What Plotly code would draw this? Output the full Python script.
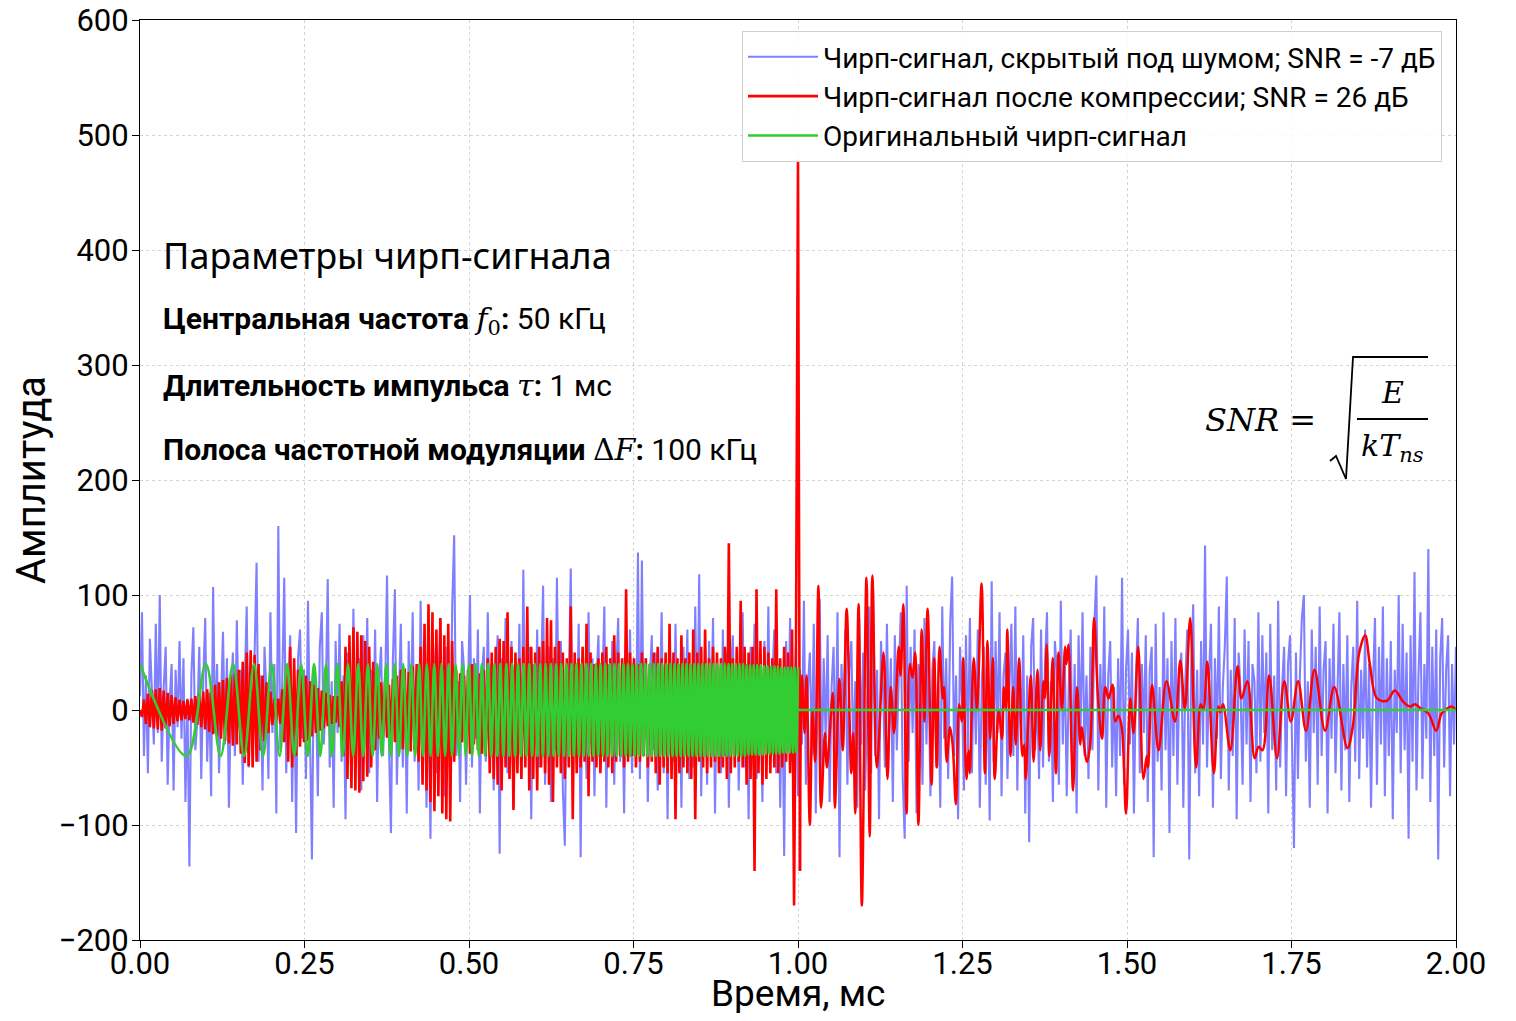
import numpy as np
import plotly.graph_objects as go

# ---------------- data ----------------
# noisy chirp, uniform time grid 0..2 ms
blue_y = [
    12, 85, -40, 30, -55, 62, 18, -30, 75, -20, 100, -45, 20, 55, -65, 8, 40, -70, 35, -15,
    60, -25, 45, -80, 10, -136, 30, 72, -35, -10, 55, -60, 25, 80, -45, 15, -75, 107, -20, 40,
    -55, 20, 68, -30, 45, -85, 5, 50, -40, 78, -15, 35, -65, 22, 90, -50, 10, -30, 60, 128,
    -45, 30, -70, 55, 15, -60, 85, -20, 40, -90, 160, -35, 25, 115, -55, 10, 65, -80, 30, -107,
    45, 70, -25, 35, -60, 95, -15, -130, 40, 20, -75, 55, 85, -30, 10, 114, -50, 25, -85, 60,
    -20, 75, -45, 30, -95, 50, 15, -60, 88, -35, 20, 45, -70, 65, -10, 80, -55, 35, -25, 70,
    -80, 25, 55, -40, 10, 117, -30, -107, 45, 105, -65, 20, 75, -50, 35, -90, 60, -15, 85, -45,
    30, -70, 95, -20, 50, -85, 15, -112, 65, 40, -55, 20, 80, -35, -75, 55, 10, -60, 90, 152,
    -40, 25, -80, 60, 35, -65, 15, 100, -50, 45, -25, 70, -90, 30, 55, -45, 85, -20, 40, -70,
    20, 65, -125, 45, -30, 80, -55, 10, 60, -85, 35, -15, 75, -60, 122, -40, 25, 55, -95, 40,
    -25, 70, -50, 30, 108, -65, 15, 55, -80, 45, -35, 115, -20, 60, -70, -118, 40, 20, 123, -55,
    35, -40, 75, -128, 50, 10, -60, 85, -30, 45, -75, 25, 65, -50, 15, 90, -85, 40, -20, 60,
    -65, 30, 80, -45, 20, -90, 55, -15, 70, -55, 35, -30, 137, -60, 130, -40, 45, -80, 25, 65,
    -35, 50, -70, 15, 85, -55, 30, -95, 60, 20, -45, 75, -25, 40, -85, 55, -10, 70, -60, 35,
    -50, 90, -30, 118, -75, 25, 45, -65, 60, -20, 80, -90, 35, 15, -55, 70, -40, 50, -85, 30,
    65, -25, 45, -70, 20, 85, -50, 35, -95, 55, -15, 75, -60, 40, 10, -80, 60, -35, 90, -45,
    25, 70, -55, 40, -85, 30, -127, 60, -20, 80, -45, 15, 55, -75, 35, -30, 95, -65, 20, 50,
    -40, 75, -90, 30, 97, -60, 45, -25, 65, -80, 20, 55, -50, 85, -128, 40, -15, 70, -65, 35,
    60, -45, 25, -85, 80, -30, 50, -70, 15, 90, -55, 107, -40, 35, -95, 60, 20, -50, 75, -25,
    45, -80, 65, -35, 30, 85, -60, -112, 108, -45, 55, -20, 70, -90, 40, 25, -65, 80, -30, 50,
    -75, 35, 60, -50, 20, -85, 90, -25, 45, -60, 75, 116, -40, 30, -95, 55, 10, -70, 65, -35,
    80, -55, 40, -30, 70, -85, 25, 55, -65, 35, -96, 112, -45, 60, -20, 85, -75, 30, 50, -60,
    20, 75, -40, 90, -70, 45, -25, 65, -90, 30, -115, 55, 80, -35, 15, -60, 70, -50, 40, 85,
    -45, 25, -80, 60, 35, -65, 95, -30, 50, -75, 20, 70, -55, 40, -90, 65, -20, 85, -40, 30,
    -60, 55, -35, 75, 117, -70, 40, -25, 90, -85, 30, 60, -50, 20, -75, 45, -40, 115, -65, 35,
    70, -30, 50, -90, 25, 80, -55, 40, -20, 65, -80, 35, 55, -128, 75, -45, 20, -70, 85, -35,
    45, -107, 60, -40, 80, -65, 30, 50, -85, 25, 70, -130, 40, 92, -55, 35, -75, 60, -30, 143,
    -50, 30, 75, -85, 45, -25, 90, -60, 20, 55, 116, -70, 35, -40, 80, -95, 50, 15, -65, 70,
    -30, 60, -80, 40, 25, -55, 85, -45, 65, -20, 50, -90, 75, -35, 30, -70, 95, -50, 20, 55,
    -75, 40, 65, -35, -120, 50, -60, 30, 80, 100, -45, 25, -85, 70, -20, 55, -65, 90, -40, 35,
    60, -90, 45, -25, 75, -55, 30, 85, -70, 40, -35, 65, -80, 20, 55, -45, 95, -60, 35, -25,
    70, -50, 40, -85, 25, 80, -65, 55, -30, 90, -75, 45, -40, 60, -95, 35, -20, 100, -55, 75,
    -35, 50, -112, 65, -45, 120, -70, 30, 85, -60, 40, -25, 140, -80, 55, -40, 70, -130, 45, 80,
    -50, 35, 65, -75, 40, -30, 55,
]

# compressed signal, first part on the same time grid (0 .. 1.003 ms)
red_head_y = [
    0, -6, 9, -12, 14, -15, 17, -16, 18, -17,
    19, -18, 17, -16, 15, -14, 13, -12, 11, -10,
    9, -9, 8, -8, 9, -9, 10, -11, 12, -13,
    14, -15, 16, -17, 18, -19, 20, -21, 22, -23,
    24, -25, 26, -27, 28, -29, 30, -31, 32, -30,
    35, -38, 42, -46, 50, -49, 52, -50, 48, -45,
    40, -35, 30, -27, 24, -20, 16, -13, 10, -9,
    10, -12, 18, -28, 38, -45, 55, -50, 45, -40,
    35, -32, 30, -28, 30, -27, 25, -23, 22, -20,
    19, -18, 17, -16, 15, -14, 13, -12, 12, -11,
    12, -15, 25, -40, 55, -60, 65, -68, 72, -70,
    68, -72, 65, -62, 60, -58, 55, -50, 42, -35,
    28, -25, 24, -22, 25, -24, 22, -25, 27, -28,
    30, -32, 35, -34, 36, -35, 33, -36, 38, -35,
    40, -45, 55, -65, 75, -70, 92, -80, 85, -88,
    70, -75, 80, -90, 65, -95, 75, -97, 60, -45,
    35, -30, 32, -28, 30, -32, 35, -38, 40, -30,
    28, -35, 32, -38, 35, -40, 45, -55, 50, -60,
    55, -65, 62, -70, 60, -50, 85, -60, 55, -87,
    50, -55, 45, -60, 55, -50, 90, -70, 55, -60,
    50, -70, 55, -50, 60, -55, 80, -65, 78, -80,
    55, -50, 60, -55, 50, -60, 45, -50, 90, -95,
    50, -55, 45, -50, 55, -45, 75, -75, 50, -45,
    40, -50, 45, -55, 50, -45, 55, -50, 45, -55,
    65, -45, 50, -40, 45, -50, 105, -45, 50, -40,
    45, -50, 40, -45, 50, -40, 45, -50, 40, -45,
    50, -55, 55, -65, 45, -50, 50, -55, 75, -60,
    50, -95, 45, -55, 65, -50, 45, -55, 50, -60,
    70, -95, 50, -45, 55, -50, 70, -55, 45, -50,
    55, -45, 50, -55, 45, -50, 55, -60, 145, -55,
    45, -50, 55, -45, 95, -50, 55, -65, 50, -60,
    55, -140, 105, -55, 60, -65, 55, -60, 50, -55,
    45, -50, 105, -55, 45, -50, 55, -45, 50, -55,
    70, -170, 60, 478, -140,
]

# compressed signal, second part: turning points (ms, amplitude)
red_tail_t = [
    1.003, 1.006, 1.010, 1.013, 1.018, 1.022, 1.026, 1.031, 1.035, 1.041,
    1.044, 1.053, 1.056, 1.063, 1.068, 1.074, 1.081, 1.084, 1.087, 1.092,
    1.097, 1.104, 1.109, 1.113, 1.120, 1.130, 1.136, 1.141, 1.146, 1.153,
    1.156, 1.160, 1.165, 1.170, 1.174, 1.178, 1.183, 1.188, 1.192, 1.197,
    1.203, 1.207, 1.211, 1.215, 1.220, 1.222, 1.226, 1.231, 1.235, 1.240,
    1.245, 1.249, 1.251, 1.256, 1.259, 1.261, 1.267, 1.272, 1.279, 1.284,
    1.288, 1.292, 1.296, 1.299, 1.305, 1.310, 1.313, 1.316, 1.318, 1.323,
    1.327, 1.331, 1.336, 1.341, 1.344, 1.346, 1.350, 1.354, 1.358, 1.364,
    1.368, 1.373, 1.375, 1.378, 1.382, 1.387, 1.392, 1.396, 1.401, 1.406,
    1.408, 1.411, 1.416, 1.418, 1.424, 1.429, 1.431, 1.439, 1.444, 1.450,
    1.456, 1.462, 1.467, 1.472, 1.478, 1.482, 1.487, 1.492, 1.4985, 1.505,
    1.510, 1.517, 1.525, 1.530, 1.532, 1.538, 1.548, 1.560, 1.573, 1.581,
    1.588, 1.596, 1.605, 1.612, 1.616, 1.622, 1.632, 1.639, 1.642, 1.646,
    1.657, 1.668, 1.674, 1.683, 1.694, 1.700, 1.706, 1.716, 1.728, 1.739,
    1.749, 1.760, 1.772, 1.785, 1.801, 1.815, 1.835, 1.843, 1.853, 1.862,
    1.869, 1.880, 1.895, 1.907, 1.920, 1.930, 1.938, 1.945, 1.958, 1.970,
    1.978, 1.986, 1.993, 2.000,
]
red_tail_y = [
    -140, 30, -20, 30, -100, 0, -45, 108, -85, -20,
    -50, 15, -85, 27, -35, 88, -55, -20, -90, 92,
    -170, 115, -110, 117, -50, 50, -60, 20, -20, 55,
    30, 92, -90, 40, 28, 50, -100, 70, -10, 88,
    -65, 45, -50, 55, 10, 20, -45, -15, -30, -82,
    5, -10, 45, -60, -35, -55, 45, 0, 110, -55,
    60, -25, 45, -60, 0, -25, 20, 0, 70, -40,
    20, -30, 45, -40, -30, -60, -10, 30, -45, 35,
    -35, 25, 10, 57, -40, 45, -55, 50, 0, 55,
    40, 57, -40, -70, 20, -30, -15, -45, -30, 80,
    10, -25, 20, 10, 22, -10, -5, -15, -90, 10,
    -20, 55, -60, -40, -50, 22, -35, 25, -10, 43,
    0, 80, -50, 5, 0, 42, -55, 3, -2, 5,
    -35, 38, 10, 25, -42, -32, -35, 30, -42, 25,
    -10, 25, -18, 35, -18, 20, -33, -15, 50, 65,
    40, 10, 8, 17, 7, 3, 5, 2, -3, -18,
    -3, 1, 3, 0,
]

# original chirp: turning points (ms, amplitude)
green_t = [
    0.0000, 0.0707, 0.1000, 0.1225, 0.1414, 0.1581, 0.1732, 0.1871, 0.2000, 0.2121,
    0.2236, 0.2345, 0.2449, 0.2550, 0.2646, 0.2739, 0.2828, 0.2915, 0.3000, 0.3082,
    0.3162, 0.3240, 0.3317, 0.3391, 0.3464, 0.3536, 0.3606, 0.3674, 0.3742, 0.3808,
    0.3873, 0.3937, 0.4000, 0.4062, 0.4123, 0.4183, 0.4243, 0.4301, 0.4359, 0.4416,
    0.4472, 0.4528, 0.4583, 0.4637, 0.4690, 0.4743, 0.4796, 0.4848, 0.4899, 0.4950,
    0.5000, 0.5050, 0.5099, 0.5148, 0.5196, 0.5244, 0.5292, 0.5339, 0.5385, 0.5431,
    0.5477, 0.5523, 0.5568, 0.5612, 0.5657, 0.5701, 0.5745, 0.5788, 0.5831, 0.5874,
    0.5916, 0.5958, 0.6000, 0.6042, 0.6083, 0.6124, 0.6164, 0.6205, 0.6245, 0.6285,
    0.6325, 0.6364, 0.6403, 0.6442, 0.6481, 0.6519, 0.6557, 0.6595, 0.6633, 0.6671,
    0.6708, 0.6745, 0.6782, 0.6819, 0.6856, 0.6892, 0.6928, 0.6964, 0.7000, 0.7036,
    0.7071, 0.7106, 0.7141, 0.7176, 0.7211, 0.7246, 0.7280, 0.7314, 0.7348, 0.7382,
    0.7416, 0.7450, 0.7483, 0.7517, 0.7550, 0.7583, 0.7616, 0.7649, 0.7681, 0.7714,
    0.7746, 0.7778, 0.7810, 0.7842, 0.7874, 0.7906, 0.7937, 0.7969, 0.8000, 0.8031,
    0.8062, 0.8093, 0.8124, 0.8155, 0.8185, 0.8216, 0.8246, 0.8276, 0.8307, 0.8337,
    0.8367, 0.8396, 0.8426, 0.8456, 0.8485, 0.8515, 0.8544, 0.8573, 0.8602, 0.8631,
    0.8660, 0.8689, 0.8718, 0.8746, 0.8775, 0.8803, 0.8832, 0.8860, 0.8888, 0.8916,
    0.8944, 0.8972, 0.9000, 0.9028, 0.9055, 0.9083, 0.9110, 0.9138, 0.9165, 0.9192,
    0.9220, 0.9247, 0.9274, 0.9301, 0.9327, 0.9354, 0.9381, 0.9407, 0.9434, 0.9460,
    0.9487, 0.9513, 0.9539, 0.9566, 0.9592, 0.9618, 0.9644, 0.9670, 0.9695, 0.9721,
    0.9747, 0.9772, 0.9798, 0.9823, 0.9849, 0.9874, 0.9899, 0.9925, 0.9950, 0.9975,
    1.0000,
]
green_y = [
    40, -40, 40, -40, 40, -40, 40, -40, 40, -40,
    40, -40, 40, -40, 40, -40, 40, -40, 40, -40,
    40, -40, 40, -40, 40, -40, 40, -40, 40, -40,
    40, -40, 40, -40, 40, -40, 40, -40, 40, -40,
    40, -40, 40, -40, 40, -40, 40, -40, 40, -40,
    40, -40, 40, -40, 40, -40, 40, -40, 40, -40,
    40, -40, 40, -40, 40, -40, 40, -40, 40, -40,
    40, -40, 40, -40, 40, -40, 40, -40, 40, -40,
    40, -40, 40, -40, 40, -40, 40, -40, 40, -40,
    40, -40, 40, -40, 40, -40, 40, -40, 40, -40,
    40, -40, 40, -40, 40, -40, 40, -40, 40, -40,
    40, -40, 40, -40, 40, -40, 40, -40, 40, -40,
    40, -40, 40, -40, 40, -40, 40, -40, 40, -40,
    40, -40, 40, -40, 40, -40, 40, -40, 40, -40,
    40, -40, 40, -40, 40, -40, 40, -40, 40, -40,
    40, -40, 40, -40, 40, -40, 40, -40, 40, -40,
    40, -40, 40, -40, 40, -40, 40, -40, 40, -40,
    39, -39, 39, -39, 39, -39, 39, -39, 39, -39,
    38, -38, 38, -38, 38, -38, 38, -38, 38, -38,
    37, -37, 37, -37, 37, -37, 37, -37, 37, -37,
    37,
]
green_tail_t = [1.0, 2.0]
green_tail_y = [0, 0]

x_ticks = [0.0, 0.25, 0.5, 0.75, 1.0, 1.25, 1.5, 1.75, 2.0]
y_ticks = [-200, -100, 0, 100, 200, 300, 400, 500, 600]

names = [
    "Чирп-сигнал, скрытый под шумом; SNR = -7 дБ",
    "Чирп-сигнал после компрессии; SNR = 26 дБ",
    "Оригинальный чирп-сигнал",
]

# ---------------- layout helpers ----------------
# page has an 8px body margin; figure sized so it fits in the window
W, H = 1500, 1005
PL, PT, PR, PB = 140, 20, 1456, 940          # plot area in window pixels
OFF = 8
ML, MT = PL - OFF, PT - OFF
PW, PH = PR - PL, PB - PT
MR, MB = W - ML - PW, H - MT - PH


def px(x):
    return (x - PL) / PW


def py(y):
    return (PB - y) / PH


t_grid = np.linspace(0.0, 2.0, len(blue_y))

BLUE, RED, GREEN = "#8080ff", "#ff0000", "#32cd32"
FONT = "Roboto"
SERIF = "DejaVu Serif"

fig = go.Figure()
fig.add_trace(go.Scatter(x=t_grid, y=blue_y, mode="lines", name=names[0],
                         legendgroup="b", line=dict(color=BLUE, width=2.1)))
fig.add_trace(go.Scatter(x=t_grid[:len(red_head_y)], y=red_head_y, mode="lines",
                         name=names[1], legendgroup="r",
                         line=dict(color=RED, width=2.6)))
fig.add_trace(go.Scatter(x=red_tail_t, y=red_tail_y, mode="lines", name=names[1],
                         legendgroup="r", showlegend=False,
                         line=dict(color=RED, width=2.5, shape="spline")))
fig.add_trace(go.Scatter(x=green_t, y=green_y, mode="lines", name=names[2],
                         legendgroup="g",
                         line=dict(color=GREEN, width=2.6, shape="spline")))
fig.add_trace(go.Scatter(x=green_tail_t, y=green_tail_y, mode="lines", name=names[2],
                         legendgroup="g", showlegend=False,
                         line=dict(color=GREEN, width=2.6)))

axis_common = dict(
    showgrid=True, gridcolor="#d4d4d4", griddash="dot", gridwidth=1,
    showline=True, linecolor="black", linewidth=1.2, mirror=True,
    ticks="outside", ticklen=7, tickcolor="black", tickwidth=1.2,
    zeroline=False, ticklabeloverflow="allow",
    tickfont=dict(family=FONT, size=31, color="black"),
)

fig.update_layout(
    width=W, height=H,
    margin=dict(l=ML, r=MR, t=MT, b=MB, autoexpand=False),
    paper_bgcolor="white", plot_bgcolor="white",
    font=dict(family=FONT, color="black"),
    xaxis=dict(range=[0, 2], tickvals=x_ticks, tickformat=".2f", ticklabelstandoff=-11,
               **axis_common),
    yaxis=dict(range=[-200, 600], tickvals=y_ticks, ticklabelstandoff=-3,
               title=dict(text="Амплитуда", font=dict(family=FONT, size=40), standoff=14),
               **axis_common),
    legend=dict(x=px(1442), y=py(31), xanchor="right", yanchor="top",
                bgcolor="rgba(255,255,255,0.85)", bordercolor="#cfcfcf", borderwidth=1,
                font=dict(family=FONT, size=28, color="black"),
                traceorder="grouped", tracegroupgap=0, itemwidth=70),
    showlegend=True,
)

ann = []
ann.append(dict(x=px(161), y=py(255), text="Параметры чирп-сигнала",
                font=dict(family="Noto Sans", size=36, color="black")))
ann.append(dict(x=px(161), y=py(320),
                text="<b>Центральная частота</b> <span style='font-family:DejaVu Serif'><i>f</i><sub>0</sub></span><b>:</b> 50 кГц",
                font=dict(family=FONT, size=30, color="black")))
ann.append(dict(x=px(161), y=py(385),
                text="<b>Длительность импульса</b> <span style='font-family:DejaVu Serif'><i>τ</i></span><b>:</b> 1 мс",
                font=dict(family=FONT, size=30, color="black")))
ann.append(dict(x=px(161), y=py(449),
                text="<b>Полоса частотной модуляции</b> <span style='font-family:DejaVu Serif'>Δ<i>F</i></span><b>:</b> 100 кГц",
                font=dict(family=FONT, size=30, color="black")))
for a in ann:
    a.update(xref="paper", yref="paper", xanchor="left", yanchor="middle", showarrow=False)

# x-axis title placed as a text below the tick labels
ann.append(dict(x=px(798), y=py(993), xref="paper", yref="paper", xanchor="center",
                yanchor="middle", showarrow=False, text="Время, мс",
                font=dict(family=FONT, size=37, color="black")))

formula = [
    dict(x=px(1318), y=py(420), text="<i>SNR</i> =", xanchor="right",
         font=dict(family=SERIF, size=32, color="black")),
    dict(x=px(1392), y=py(392), text="<i>E</i>", xanchor="center",
         font=dict(family=SERIF, size=30, color="black")),
    dict(x=px(1392), y=py(447), text="<i>kT</i><sub><i>ns</i></sub>", xanchor="center",
         font=dict(family=SERIF, size=30, color="black")),
]
for a in formula:
    a.update(xref="paper", yref="paper", yanchor="middle", showarrow=False)
fig.update_layout(annotations=ann + formula)

radical = "M {},{} L {},{} L {},{} L {},{} L {},{}".format(
    px(1330), py(461), px(1336), py(456), px(1346), py(479),
    px(1353), py(357), px(1428), py(357))
fig.update_layout(shapes=[
    dict(type="path", path=radical, xref="paper", yref="paper",
         line=dict(color="black", width=1.8)),
    dict(type="line", x0=px(1357), x1=px(1428), y0=py(419), y1=py(419),
         xref="paper", yref="paper", line=dict(color="black", width=1.8)),
])

fig.write_html("out.html")
